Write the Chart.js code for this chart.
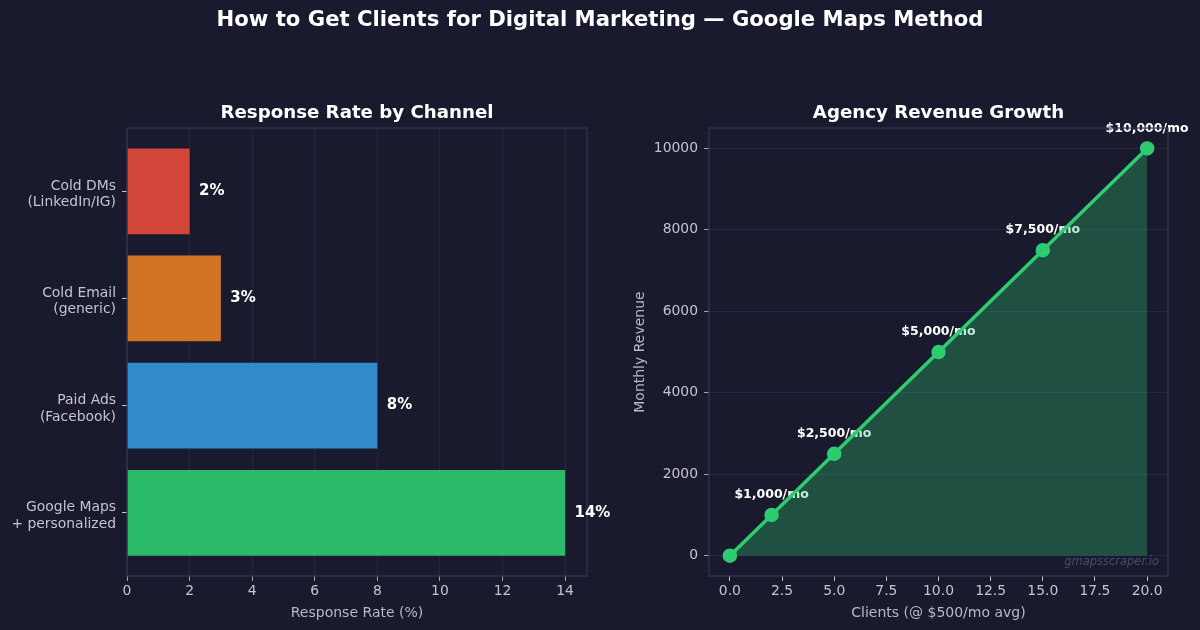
<!DOCTYPE html>
<html>
<head>
<meta charset="utf-8">
<script src="https://cdn.jsdelivr.net/npm/chart.js@4.4.1/dist/chart.umd.min.js"></script>
<style>
  html, body { margin: 0; padding: 0; background: #1a1a2e; }
  #wrap { position: relative; width: 1200px; height: 630px; overflow: hidden; }
  #mainTitle {
    position: absolute; left: 0; top: 6px; width: 1200px; text-align: center;
    font: bold 21.2px "DejaVu Sans", sans-serif; color: #ffffff; z-index: 3;
  }
  canvas { position: absolute; top: 0; }
  #rateChart { left: 0; z-index: 2; }
  #revenueChart { left: 600px; z-index: 1; }
</style>
</head>
<body>
<div id="wrap">
  <div id="mainTitle">How to Get Clients for Digital Marketing — Google Maps Method</div>
  <canvas id="rateChart" width="640" height="630"></canvas>
  <canvas id="revenueChart" width="600" height="630"></canvas>
</div>
<script>
// Data
const channels = [['Cold DMs', '(LinkedIn/IG)'], ['Cold Email', '(generic)'], ['Paid Ads', '(Facebook)'], ['Google Maps', '+ personalized']];
const responseRates = [2, 3, 8, 14];
const barColors = ['#e74c3c', '#e67e22', '#3498db', '#2ecc71'];
const rateTicks = [0, 2, 4, 6, 8, 10, 12, 14];

const clients = [0, 2, 5, 10, 15, 20];
const revenue = [0, 1000, 2500, 5000, 7500, 10000];
const clientTicks = [0, 2.5, 5, 7.5, 10, 12.5, 15, 17.5, 20];
const revenueTicks = [0, 2000, 4000, 6000, 8000, 10000];

// Colours
const tickColor = '#c4c4ce';
const labelColor = '#b8b8c6';
const gridColor = '#2a2a46';
const spineColor = '#34345a';
const lineGreen = '#2ecc71';

Chart.defaults.font.family = '"DejaVu Sans", sans-serif';
Chart.defaults.animation = false;

function withAlpha(hex, a) {
    const n = parseInt(hex.slice(1), 16);
    return `rgba(${(n >> 16) & 255}, ${(n >> 8) & 255}, ${n & 255}, ${a})`;
}

// matplotlib-like box around the plot area
const framePlugin = {
    id: 'frame',
    afterDatasetsDraw(chart) {
        const a = chart.chartArea;
        const ctx = chart.ctx;
        ctx.save();
        ctx.strokeStyle = spineColor;
        ctx.lineWidth = 1.2;
        ctx.strokeRect(a.left, a.top, a.right - a.left, a.bottom - a.top);
        ctx.restore();
    }
};

// "2%" etc. to the right of each bar
const barLabelPlugin = {
    id: 'barLabels',
    afterDatasetsDraw(chart) {
        const ctx = chart.ctx;
        const xs = chart.scales.x;
        const meta = chart.getDatasetMeta(0);
        ctx.save();
        ctx.fillStyle = '#ffffff';
        ctx.font = 'bold 15px "DejaVu Sans"';
        ctx.textAlign = 'left';
        ctx.textBaseline = 'middle';
        meta.data.forEach((bar, i) => {
            const v = responseRates[i];
            ctx.fillText(v + '%', xs.getPixelForValue(v + 0.3), bar.y);
        });
        ctx.restore();
    }
};

// "$1,000/mo" etc. above the points (drawn under the line, as in the reference)
const pointLabelPlugin = {
    id: 'pointLabels',
    beforeDatasetsDraw(chart) {
        const ctx = chart.ctx;
        const meta = chart.getDatasetMeta(0);
        ctx.save();
        ctx.fillStyle = '#ffffff';
        ctx.font = 'bold 12.5px "DejaVu Sans"';
        ctx.textAlign = 'center';
        ctx.textBaseline = 'middle';
        meta.data.forEach((pt, i) => {
            if (revenue[i] > 0) {
                ctx.fillText('$' + revenue[i].toLocaleString('en-US') + '/mo', pt.x, pt.y - 20);
            }
        });
        ctx.restore();
    }
};

const watermarkPlugin = {
    id: 'watermark',
    afterDatasetsDraw(chart) {
        const a = chart.chartArea;
        const ctx = chart.ctx;
        ctx.save();
        ctx.fillStyle = '#4a4a6c';
        ctx.font = 'italic 11.5px "DejaVu Sans"';
        ctx.textAlign = 'right';
        ctx.textBaseline = 'middle';
        ctx.fillText('gmapsscraper.io', a.right - 9, a.bottom - 14);
        ctx.restore();
    }
};

const titleOpts = (text) => ({
    display: true,
    fullSize: false,
    text: text,
    color: '#ffffff',
    font: { size: 18.2, weight: 'bold' },
    padding: { top: 102.1, bottom: 4.1 }
});

const tickFont = { size: 13.9 };
const axisTitleFont = { size: 14 };

// Left: horizontal bars
new Chart(document.getElementById('rateChart').getContext('2d'), {
    type: 'bar',
    data: {
        datasets: [{
            data: responseRates.map((v, i) => ({ x: v, y: i })),
            backgroundColor: barColors.map(c => withAlpha(c, 0.9)),
            borderColor: barColors.map(c => withAlpha(c, 0.9)),
            borderWidth: 0,
            barPercentage: 0.8,
            categoryPercentage: 1.0
        }]
    },
    options: {
        indexAxis: 'y',
        responsive: false,
        layout: { padding: { left: 0, right: 53, top: 0, bottom: 0 } },
        plugins: {
            legend: { display: false },
            tooltip: { enabled: false },
            title: titleOpts('Response Rate by Channel')
        },
        scales: {
            x: {
                type: 'linear',
                min: 0,
                max: 14.7,
                afterBuildTicks: s => { s.ticks = rateTicks.map(v => ({ value: v })); },
                afterFit: s => { s.height = 54; },
                ticks: { color: tickColor, font: tickFont, padding: 2.5, callback: v => String(v) },
                grid: { color: gridColor, lineWidth: 0.8, tickLength: 5, tickColor: tickColor },
                border: { display: false },
                title: {
                    display: true, text: 'Response Rate (%)', color: labelColor,
                    font: axisTitleFont, padding: { top: 0, bottom: 8.6 }
                }
            },
            y: {
                type: 'linear',
                reverse: true,
                offset: false,
                min: -0.59,
                max: 3.59,
                afterBuildTicks: s => { s.ticks = channels.map((c, i) => ({ value: i })); },
                afterFit: s => { s.width = 127; },
                ticks: {
                    color: tickColor, font: { size: 13.9, lineHeight: 1.2 }, padding: 6,
                    labelOffset: 3,
                    callback: v => channels[v]
                },
                grid: { offset: false, drawOnChartArea: false, tickLength: 5, tickColor: tickColor },
                border: { display: false }
            }
        }
    },
    plugins: [framePlugin, barLabelPlugin]
});

// Right: revenue line with area fill
new Chart(document.getElementById('revenueChart').getContext('2d'), {
    type: 'line',
    data: {
        datasets: [{
            data: clients.map((c, i) => ({ x: c, y: revenue[i] })),
            borderColor: lineGreen,
            borderWidth: 3.5,
            pointRadius: 5.5,
            pointBackgroundColor: lineGreen,
            pointBorderColor: lineGreen,
            fill: { target: { value: 0 } },
            backgroundColor: withAlpha(lineGreen, 0.3),
            tension: 0
        }]
    },
    options: {
        responsive: false,
        layout: { padding: { left: 0, right: 32, top: 0, bottom: 0 } },
        plugins: {
            legend: { display: false },
            tooltip: { enabled: false },
            title: titleOpts('Agency Revenue Growth')
        },
        scales: {
            x: {
                type: 'linear',
                min: -1,
                max: 21,
                afterBuildTicks: s => { s.ticks = clientTicks.map(v => ({ value: v })); },
                afterFit: s => { s.height = 54; },
                ticks: { color: tickColor, font: tickFont, padding: 2.5, callback: v => v.toFixed(1) },
                grid: { drawOnChartArea: false, tickLength: 5, tickColor: tickColor },
                border: { display: false },
                title: {
                    display: true, text: 'Clients (@ $500/mo avg)', color: labelColor,
                    font: axisTitleFont, padding: { top: 0, bottom: 8.6 }
                }
            },
            y: {
                type: 'linear',
                min: -500,
                max: 10500,
                afterBuildTicks: s => { s.ticks = revenueTicks.map(v => ({ value: v })); },
                afterFit: s => { s.width = 109; },
                ticks: { color: tickColor, font: tickFont, padding: 6, callback: v => String(v) },
                grid: { color: gridColor, lineWidth: 0.8, tickLength: 5, tickColor: tickColor },
                border: { display: false },
                title: {
                    display: true, text: 'Monthly Revenue', color: labelColor,
                    font: axisTitleFont, padding: { top: 31.6, bottom: 0 }
                }
            }
        }
    },
    plugins: [framePlugin, pointLabelPlugin, watermarkPlugin]
});
</script>
</body>
</html>
